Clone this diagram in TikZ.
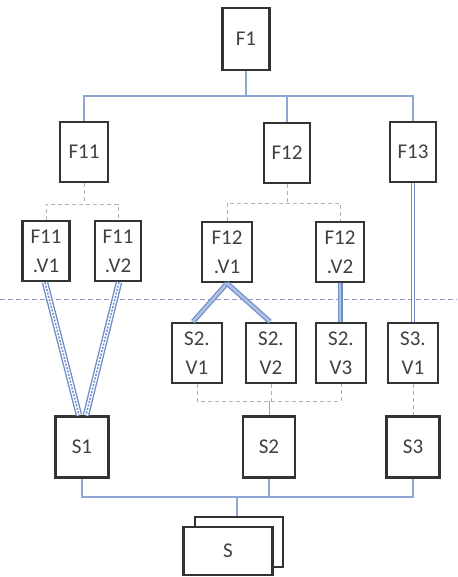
\documentclass[tikz,border=0pt]{standalone}
\usepackage{fontspec}
\setmainfont{Carlito}
\definecolor{conn}{HTML}{8EA6D6}
\definecolor{dconn}{HTML}{6F8CC8}
\definecolor{boxc}{HTML}{333333}
\definecolor{txtc}{HTML}{404040}
\definecolor{dashc}{HTML}{A8B0C4}
\begin{document}
\begin{tikzpicture}[x=1pt,y=-1pt,
  bx/.style={draw=boxc,line width=2.6pt,fill=white,inner sep=0pt,align=center,
    minimum width=48pt,minimum height=60pt,font=\fontsize{21}{29}\selectfont,text=txtc},
  bus/.style={draw=conn,line width=1.1pt},
  dbus/.style={draw=dashc,line width=0.9pt,dash pattern=on 4pt off 3pt},
  tri/.style={draw=dconn,line width=6.5pt,postaction={draw=white,line width=3.8pt},
    postaction={draw=dconn,line width=1.5pt,dash pattern=on 2pt off 1.5pt}},
  dbl/.style={draw=dconn,line width=1.2pt,double=conn!70,double distance=2.6pt},
  dblw/.style={draw=dconn,line width=1pt,double=white,double distance=1.6pt}]
\useasboundingbox (0,0) rectangle (457,577);
% nodes
\node[bx,minimum width=47pt,minimum height=62pt] (F1) at (246,39) {F1};
\node[bx] (F11) at (84,152) {F11};
\node[bx,minimum width=46pt] (F12) at (287,153) {F12};
\node[bx,minimum width=46pt] (F13) at (413,152) {F13};
\node[bx,minimum width=47pt] (F11V1) at (46,251) {F11\\.V1};
\node[bx,minimum width=46pt] (F11V2) at (118,251) {F11\\.V2};
\node[bx,minimum width=50pt] (F12V1) at (227,252) {F12\\.V1};
\node[bx] (F12V2) at (340,252) {F12\\.V2};
\node[bx,minimum width=50pt] (S2V1) at (197,353) {S2.\\V1};
\node[bx,minimum width=50pt] (S2V2) at (271,353) {S2.\\V2};
\node[bx,minimum width=50pt] (S2V3) at (341,353) {S2.\\V3};
\node[bx,minimum width=50pt] (S3V1) at (413,353) {S3.\\V1};
\node[bx,minimum width=53pt,minimum height=61pt] (S1) at (82,447) {S1};
\node[bx,minimum width=52pt,minimum height=61pt] (S2) at (269,447) {S2};
\node[bx,minimum width=53pt,minimum height=61pt] (S3) at (413,447) {S3};
% S stack
\node[bx,minimum width=88pt,minimum height=50pt] (Sb) at (239,542) {};
\node[bx,minimum width=89pt,minimum height=48pt] (S) at (228,551) {S};
% top bus
\coordinate (b1) at (246,96);
\draw[bus] (F1.south) -- (b1);
\draw[bus] (F11.north) -- (F11.north |- b1) -- (F13.north |- b1) -- (F13.north);
\draw[bus] (F12.north) -- (F12.north |- b1);
% dashed F11 bus
\coordinate (b2) at (84,204);
\draw[dbus] (F11.south) -- (b2);
\draw[dbus] (F11V1.north) -- (F11V1.north |- b2) -- (F11V2.north |- b2) -- (F11V2.north);
% dashed F12 bus
\coordinate (b3) at (287,203);
\draw[dbus] (F12.south) -- (b3);
\draw[dbus] (F12V1.north) -- (F12V1.north |- b3) -- (F12V2.north |- b3) -- (F12V2.north);
% long dashed separator
\coordinate (sl) at (0,299);
\coordinate (sr) at (457,299);
\draw[draw=dashc!90!blue,line width=1pt,dash pattern=on 5pt off 3pt] (sl) -- (sr);
% thick connectors
\draw[tri] ([xshift=-1pt]F11V1.south) -- ([xshift=-3pt]S1.north);
\draw[tri] ([xshift=1pt]F11V2.south) -- ([xshift=4pt]S1.north);
\draw[dbl] (F12V1.south) -- ([xshift=-4pt]S2V1.north);
\draw[dbl] (F12V1.south) -- ([xshift=-1pt]S2V2.north);
\draw[dbl] (F12V2.south) -- (F12V2.south |- S2V3.north);
\draw[dblw] (F13.south) -- (S3V1.north);
% dashed S2 bus
\coordinate (b4) at (269,401);
\draw[dbus] (S2V1.south) -- (S2V1.south |- b4) -- (S2V3.south |- b4) -- (S2V3.south);
\draw[dbus] (S2V2.south) -- (S2V2.south |- b4);
\draw[bus,line width=0.8pt] (b4) -- (S2.north);
\draw[dbus] (S3V1.south) -- (S3.north);
% bottom bus
\coordinate (b5) at (237,497);
\draw[bus] (S1.south) -- (S1.south |- b5) -- (S3.south |- b5) -- (S3.south);
\draw[bus] (S2.south) -- (S2.south |- b5);
\draw[bus] (b5) -- (Sb.north -| b5);
\end{tikzpicture}
\end{document}
